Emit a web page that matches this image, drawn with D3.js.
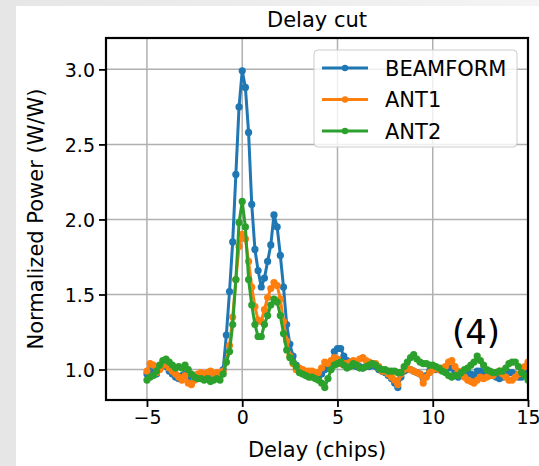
<!DOCTYPE html>
<html><head><meta charset="utf-8">
<script src="https://cdn.jsdelivr.net/npm/d3@7"></script>
<style>
html,body{margin:0;padding:0;background:#fff;}
svg{display:block;font-family:"DejaVu Sans",sans-serif;}
</style></head>
<body>
<svg id="chart" width="539" height="466"></svg>
<script>
// ---- data ----
const seriesNames = ["BEAMFORM", "ANT1", "ANT2"];
const seriesColors = ["#1f77b4", "#ff7f0e", "#2ca02c"];
const xStart = -5, xStep = 1/6; // delay grid (chips)
const beamform = [
 0.97,1.00,0.98,0.97,1.01,1.03,1.02,0.99,0.97,0.95,0.94,0.96,0.97,0.95,0.94,0.96,0.95,0.97,0.96,0.95,0.94,0.95,0.96,0.97,
 1.00,1.23,1.52,1.85,2.30,2.75,2.99,2.88,2.58,2.10,1.80,1.66,1.55,1.61,1.72,1.83,2.03,1.95,1.76,1.55,1.30,1.17,1.09,1.03,
 0.99,0.98,0.97,0.97,0.96,0.96,0.95,0.97,1.00,1.01,1.05,1.12,1.14,1.14,1.09,1.06,1.04,1.03,1.02,1.02,1.01,1.02,1.02,1.03,
 1.02,1.00,0.99,0.98,0.96,0.94,0.91,0.88,0.95,0.99,1.00,1.00,0.99,0.98,0.97,0.94,0.96,0.99,1.00,1.00,1.00,1.00,1.00,1.01,
 1.01,0.98,0.95,0.96,0.97,0.98,0.97,0.96,0.99,0.99,0.98,0.97,0.96,0.96,0.95,0.94,0.95,0.97,0.98,0.98,0.97,0.95,0.95,0.97,0.99
];
const ant1 = [
 0.99,1.04,1.03,0.98,1.00,1.03,1.04,1.01,0.99,0.97,0.95,0.93,0.96,0.91,0.90,0.93,0.97,0.98,0.97,0.98,0.99,0.97,0.98,0.98,
 0.99,1.05,1.16,1.35,1.60,1.82,1.90,1.87,1.72,1.55,1.42,1.33,1.32,1.40,1.48,1.54,1.58,1.56,1.47,1.32,1.19,1.09,1.04,1.00,
 1.01,1.00,0.99,0.99,0.99,0.98,0.98,1.01,1.05,1.04,1.06,1.08,1.07,1.04,1.04,1.04,1.05,1.06,1.05,1.07,1.08,1.06,1.05,1.04,
 1.04,1.02,0.99,0.99,0.97,0.95,0.93,0.90,0.97,1.00,1.01,1.00,0.99,0.98,0.97,0.91,0.95,0.98,1.00,1.01,1.00,1.01,1.02,1.05,
 1.06,1.02,0.99,0.97,0.95,0.93,0.92,0.91,0.93,0.95,0.94,0.95,0.96,0.96,0.98,0.99,0.97,0.95,0.93,0.93,0.95,0.97,0.99,1.02,1.05
];
const ant2 = [
 0.93,0.95,0.96,0.99,1.03,1.06,1.07,1.05,1.03,1.01,1.02,1.01,1.03,1.00,0.97,0.95,0.94,0.94,0.93,0.94,0.92,0.93,0.94,0.93,
 0.97,1.05,1.12,1.30,1.60,1.98,2.12,1.95,1.60,1.43,1.30,1.22,1.22,1.30,1.36,1.43,1.47,1.45,1.36,1.24,1.13,1.08,1.05,1.02,
 0.98,0.97,0.96,0.95,0.95,0.94,0.93,0.91,0.88,0.94,1.00,1.03,1.04,1.05,1.03,1.01,1.02,1.04,1.03,1.01,1.01,1.02,1.03,1.04,
 1.03,1.01,1.00,1.00,0.99,0.99,0.99,0.98,0.98,1.02,1.05,1.08,1.10,1.07,1.05,1.04,1.04,1.03,1.03,1.02,1.01,0.99,0.98,0.96,
 0.95,0.96,0.96,0.98,1.00,1.01,1.03,1.05,1.09,1.06,1.03,1.00,0.99,0.98,0.98,0.99,0.99,1.01,1.04,1.05,1.05,1.02,0.98,0.96,0.93
];
const xTicks = [-5, 0, 5, 10, 15];
const yTicks = [1.0, 1.5, 2.0, 2.5, 3.0];
const titleText = "Delay cut";
const xLabel = "Delay (chips)";
const yLabel = "Normalized Power (W/W)";
const panelTag = "(4)";

// ---- layout ----
const svg = d3.select("#chart");
const W = 539, H = 466;
const m = {left: 106, right: 528, top: 38, bottom: 400};

// background: light grey frame with white panel
const defs = svg.append("defs");
const gL = defs.append("linearGradient").attr("id","gl").attr("x1","0").attr("x2","1").attr("y1","0").attr("y2","0");
gL.append("stop").attr("offset","0").attr("stop-color","#e6e6e6");
gL.append("stop").attr("offset","1").attr("stop-color","#f4f4f4");
svg.append("rect").attr("width",W).attr("height",H).attr("fill","url(#gl)");
svg.append("rect").attr("x",16).attr("y",6).attr("width",W-16).attr("height",H-6).attr("fill","#fff");

const x = d3.scaleLinear().domain([-7.15, 15]).range([m.left, m.right]);
const y = d3.scaleLinear().domain([0.797, 3.209]).range([m.bottom, m.top]);

const clipId = "plotclip";
defs.append("clipPath").attr("id", clipId).append("rect")
  .attr("x", m.left).attr("y", m.top).attr("width", m.right - m.left).attr("height", m.bottom - m.top);

// grid
const grid = svg.append("g");
grid.selectAll(".gx").data(xTicks).join("line")
  .attr("x1", d => x(d)).attr("x2", d => x(d)).attr("y1", m.top).attr("y2", m.bottom)
  .attr("stroke", "#b0b0b0").attr("stroke-width", 1.5);
grid.selectAll(".gy").data(yTicks).join("line")
  .attr("y1", d => y(d)).attr("y2", d => y(d)).attr("x1", m.left).attr("x2", m.right)
  .attr("stroke", "#b0b0b0").attr("stroke-width", 1.5);

// series
const allSeries = [beamform, ant1, ant2];
const plot = svg.append("g").attr("clip-path", `url(#${clipId})`);
const line = d3.line().x((d, i) => x(xStart + i * xStep)).y(d => y(d));
allSeries.forEach((vals, k) => {
  const g = plot.append("g");
  g.append("path").datum(vals).attr("d", line).attr("fill", "none")
    .attr("stroke", seriesColors[k]).attr("stroke-width", 3).attr("stroke-linejoin", "round");
  g.selectAll("circle").data(vals).join("circle")
    .attr("cx", (d, i) => x(xStart + i * xStep)).attr("cy", d => y(d)).attr("r", 3.6)
    .attr("fill", seriesColors[k]);
});

// axes
const xAxis = d3.axisBottom(x).tickValues(xTicks).tickSize(7).tickPadding(4)
  .tickFormat(d => d < 0 ? "\u2212" + Math.abs(d) : String(d));
const yAxis = d3.axisLeft(y).tickValues(yTicks).tickSize(7).tickPadding(4).tickFormat(d3.format(".1f"));
const gx = svg.append("g").attr("transform", `translate(0,${m.bottom})`).call(xAxis);
const gy = svg.append("g").attr("transform", `translate(${m.left},0)`).call(yAxis);
[gx, gy].forEach(g => {
  g.attr("font-size", null).attr("font-family", null);
  g.select(".domain").remove();
  g.selectAll(".tick line").attr("stroke", "#000").attr("stroke-width", 1.8);
  g.selectAll(".tick text").attr("fill", "#000").attr("font-size", 19)
    .attr("font-family", "DejaVu Sans, sans-serif");
});
gy.selectAll(".tick text").attr("dy", "0.36em");

// frame
svg.append("rect").attr("x", m.left).attr("y", m.top).attr("width", m.right - m.left)
  .attr("height", m.bottom - m.top).attr("fill", "none").attr("stroke", "#000").attr("stroke-width", 2.2);

// titles
svg.append("text").attr("x", (m.left + m.right) / 2).attr("y", 27).attr("text-anchor", "middle")
  .attr("font-size", 21).text(titleText);
svg.append("text").attr("x", (m.left + m.right) / 2).attr("y", 457).attr("text-anchor", "middle")
  .attr("font-size", 21).text(xLabel);
svg.append("text").attr("transform", `translate(43,${(m.top + m.bottom) / 2}) rotate(-90)`)
  .attr("text-anchor", "middle").attr("font-size", 21).text(yLabel);

// panel tag
svg.append("text").attr("x", 476).attr("y", 344).attr("text-anchor", "middle")
  .attr("font-size", 34).text(panelTag);

// legend
const lg = svg.append("g");
lg.append("rect").attr("x", 314).attr("y", 50).attr("width", 203).attr("height", 97).attr("rx", 4)
  .attr("fill", "#fff").attr("fill-opacity", 0.8).attr("stroke", "#cccccc").attr("stroke-width", 1);
seriesNames.forEach((name, k) => {
  const yy = 68 + k * 31.5;
  lg.append("line").attr("x1", 322).attr("x2", 368).attr("y1", yy).attr("y2", yy)
    .attr("stroke", seriesColors[k]).attr("stroke-width", 3);
  lg.append("circle").attr("cx", 345).attr("cy", yy).attr("r", 3.2).attr("fill", seriesColors[k]);
  lg.append("text").attr("x", 385).attr("y", yy + 7.5).attr("font-size", 21).text(name);
});
</script>
</body></html>
